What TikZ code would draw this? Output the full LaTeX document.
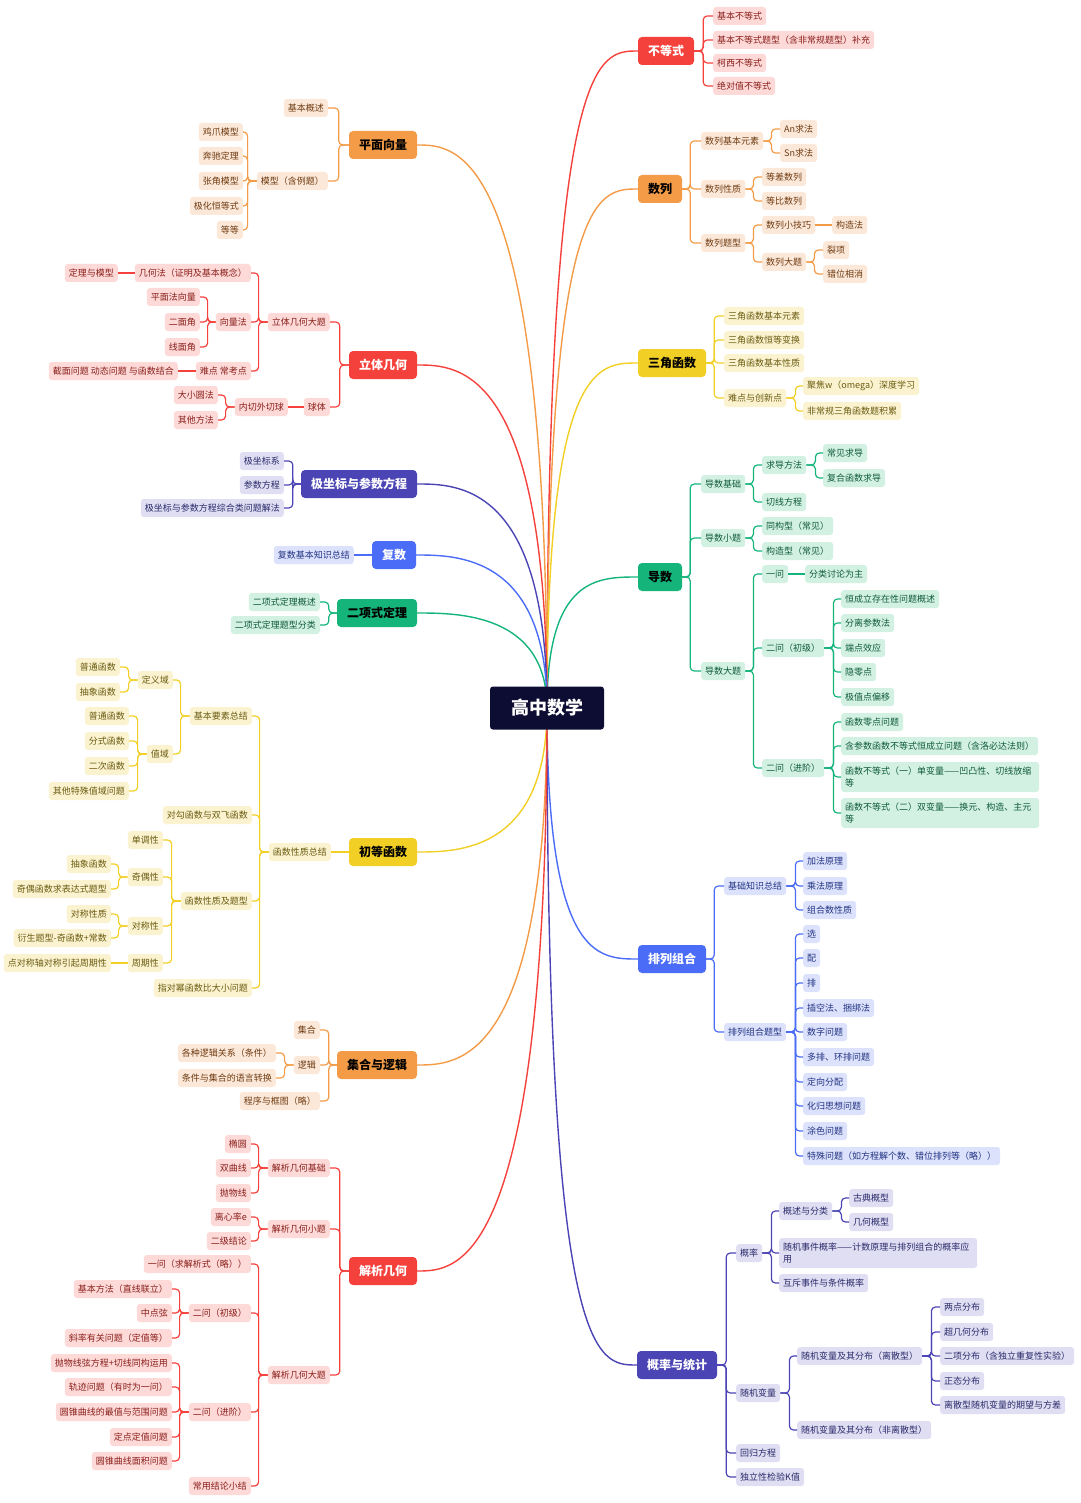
\documentclass[tikz,border=0pt]{standalone}
\usepackage{fontspec}
\setmainfont{Noto Sans CJK SC}
\usetikzlibrary{positioning}
\definecolor{rootbg}{HTML}{0D0D33}
\definecolor{redT}{HTML}{F5413C}\definecolor{redL}{HTML}{FDDAD8}\definecolor{redX}{HTML}{8A1F1B}
\definecolor{orT}{HTML}{F39B47}\definecolor{orL}{HTML}{FCE8D8}\definecolor{orX}{HTML}{6E3B12}
\definecolor{yeT}{HTML}{F1CF25}\definecolor{yeL}{HTML}{FBF3CF}\definecolor{yeX}{HTML}{6A5B12}
\definecolor{grT}{HTML}{14B47A}\definecolor{grL}{HTML}{D2F1E3}\definecolor{grX}{HTML}{0F5A3A}
\definecolor{inT}{HTML}{4B44B4}\definecolor{inL}{HTML}{DFDEF2}\definecolor{inX}{HTML}{2B2A6B}
\definecolor{blT}{HTML}{4A6CF6}\definecolor{blL}{HTML}{DCE2FC}\definecolor{blX}{HTML}{223382}

\begin{document}
\begin{tikzpicture}[
    x=1pt, y=-1pt,
    % leaves
    leaf/.style = {rounded corners=3pt, inner xsep=4pt, inner ysep=0pt,
        minimum height=18pt, font=\fontsize{9}{12}\selectfont},
    lr/.style = {leaf, fill=redL, text=redX},
    lo/.style = {leaf, fill=orL, text=orX},
    ly/.style = {leaf, fill=yeL, text=yeX},
    lg/.style = {leaf, fill=grL, text=grX},
    li/.style = {leaf, fill=inL, text=inX},
    lb/.style = {leaf, fill=blL, text=blX},
    % main topics
    topic/.style = {rounded corners=4pt, inner xsep=10pt, minimum height=28pt,
        font=\fontsize{12}{14}\selectfont\bfseries},
    tr/.style = {topic, fill=redT, text=white},
    to/.style = {topic, fill=orT, text=black},
    ty/.style = {topic, fill=yeT, text=black},
    tg/.style = {topic, fill=grT, text=black},
    ti/.style = {topic, fill=inT, text=white},
    tb/.style = {topic, fill=blT, text=white},
    % connectors
    cr/.style = {draw=redT, line width=1.2pt, rounded corners=4pt},
    co/.style = {draw=orT, line width=1.2pt, rounded corners=4pt},
    cy/.style = {draw=yeT, line width=1.2pt, rounded corners=4pt},
    cg/.style = {draw=grT, line width=1.2pt, rounded corners=4pt},
    ci/.style = {draw=inT, line width=1.2pt, rounded corners=4pt},
    cb/.style = {draw=blT, line width=1.2pt, rounded corners=4pt},
    two/.style = {text width=#1, align=left, minimum height=30pt}
]
\useasboundingbox (0,0) rectangle (1080,1503);
\coordinate (rc) at (547,708);

% ---------- right side ----------
% 不等式
\node[tr] (bdz) at (666,51) {不等式};
\node[lr, anchor=west] (bdz1) at (713,16) {基本不等式};
\node[lr, anchor=west] (bdz2) at (713,40) {基本不等式题型（含非常规题型）补充};
\node[lr, anchor=west] (bdz3) at (713,63) {柯西不等式};
\node[lr, anchor=west] (bdz4) at (713,86) {绝对值不等式};
\foreach \c in {bdz1,bdz2,bdz3,bdz4} \draw[cr] (bdz.east) -- ++(9,0) |- (\c.west);

% 数列
\node[to] (sl) at (660,189) {数列};
\node[lo, anchor=west] (sl1) at (701,141) {数列基本元素};
\node[lo, anchor=west] (sl2) at (701,189) {数列性质};
\node[lo, anchor=west] (sl3) at (701,243) {数列题型};
\node[lo, anchor=west] (sl11) at (780,129) {An求法};
\node[lo, anchor=west] (sl12) at (780,153) {Sn求法};
\node[lo, anchor=west] (sl21) at (762,177) {等差数列};
\node[lo, anchor=west] (sl22) at (762,201) {等比数列};
\node[lo, anchor=west] (sl31) at (762,225) {数列小技巧};
\node[lo, anchor=west] (sl32) at (762,262) {数列大题};
\node[lo, anchor=west] (sl311) at (832,225) {构造法};
\node[lo, anchor=west] (sl321) at (823,250) {裂项};
\node[lo, anchor=west] (sl322) at (823,274) {错位相消};
\foreach \c in {sl1,sl2,sl3} \draw[co] (sl.east) -- ++(8,0) |- (\c.west);
\foreach \c in {sl11,sl12} \draw[co] (sl1.east) -- ++(8,0) |- (\c.west);
\foreach \c in {sl21,sl22} \draw[co] (sl2.east) -- ++(8,0) |- (\c.west);
\foreach \c in {sl31,sl32} \draw[co] (sl3.east) -- ++(8,0) |- (\c.west);
\draw[co] (sl31) -- (sl311);
\foreach \c in {sl321,sl322} \draw[co] (sl32.east) -- ++(8,0) |- (\c.west);

% 三角函数
\node[ty] (sj) at (672,363) {三角函数};
\node[ly, anchor=west] (sj1) at (724,316) {三角函数基本元素};
\node[ly, anchor=west] (sj2) at (724,340) {三角函数恒等变换};
\node[ly, anchor=west] (sj3) at (724,363) {三角函数基本性质};
\node[ly, anchor=west] (sj4) at (724,398) {难点与创新点};
\node[ly, anchor=west] (sj41) at (803,386) {聚焦w（omega）深度学习};
\node[ly, anchor=west] (sj42) at (803,411) {非常规三角函数题积累};
\foreach \c in {sj1,sj2,sj3,sj4} \draw[cy] (sj.east) -- ++(8,0) |- (\c.west);
\foreach \c in {sj41,sj42} \draw[cy] (sj4.east) -- ++(9,0) |- (\c.west);

% 导数
\node[tg] (ds) at (660,577) {导数};
\node[lg, anchor=west] (ds1) at (701,484) {导数基础};
\node[lg, anchor=west] (ds2) at (701,538) {导数小题};
\node[lg, anchor=west] (ds3) at (701,671) {导数大题};
\node[lg, anchor=west] (ds11) at (762,465) {求导方法};
\node[lg, anchor=west] (ds12) at (762,502) {切线方程};
\node[lg, anchor=west] (ds111) at (823,453) {常见求导};
\node[lg, anchor=west] (ds112) at (823,478) {复合函数求导};
\node[lg, anchor=west] (ds21) at (762,526) {同构型（常见）};
\node[lg, anchor=west] (ds22) at (762,551) {构造型（常见）};
\node[lg, anchor=west] (ds31) at (762,574) {一问};
\node[lg, anchor=west] (ds32) at (762,648) {二问（初级）};
\node[lg, anchor=west] (ds33) at (762,768) {二问（进阶）};
\node[lg, anchor=west] (ds311) at (805,574) {分类讨论为主};
\node[lg, anchor=west] (ds321) at (841,599) {恒成立存在性问题概述};
\node[lg, anchor=west] (ds322) at (841,623) {分离参数法};
\node[lg, anchor=west] (ds323) at (841,648) {端点效应};
\node[lg, anchor=west] (ds324) at (841,672) {隐零点};
\node[lg, anchor=west] (ds325) at (841,697) {极值点偏移};
\node[lg, anchor=west] (ds331) at (841,722) {函数零点问题};
\node[lg, anchor=west] (ds332) at (841,746) {含参数函数不等式恒成立问题（含洛必达法则）};
\node[lg, anchor=west, two=190pt] (ds333) at (841,777) {函数不等式（一）单变量——凹凸性、切线放缩\\等};
\node[lg, anchor=west, two=190pt] (ds334) at (841,813) {函数不等式（二）双变量——换元、构造、主元\\等};
\foreach \c in {ds1,ds2,ds3} \draw[cg] (ds.east) -- ++(8,0) |- (\c.west);
\foreach \c in {ds11,ds12} \draw[cg] (ds1.east) -- ++(8,0) |- (\c.west);
\foreach \c in {ds111,ds112} \draw[cg] (ds11.east) -- ++(9,0) |- (\c.west);
\foreach \c in {ds21,ds22} \draw[cg] (ds2.east) -- ++(8,0) |- (\c.west);
\foreach \c in {ds31,ds32,ds33} \draw[cg] (ds3.east) -- ++(8,0) |- (\c.west);
\draw[cg] (ds31) -- (ds311);
\foreach \c in {ds321,ds322,ds323,ds324,ds325} \draw[cg] (ds32.east) -- ++(9,0) |- (\c.west);
\foreach \c in {ds331,ds332,ds333,ds334} \draw[cg] (ds33.east) -- ++(9,0) |- (\c.west);

% 排列组合
\node[tb] (pl) at (672,959) {排列组合};
\node[lb, anchor=west] (pl1) at (724,886) {基础知识总结};
\node[lb, anchor=west] (pl2) at (724,1032) {排列组合题型};
\node[lb, anchor=west] (pl11) at (803,861) {加法原理};
\node[lb, anchor=west] (pl12) at (803,886) {乘法原理};
\node[lb, anchor=west] (pl13) at (803,910) {组合数性质};
\node[lb, anchor=west] (pl21) at (803,934) {选};
\node[lb, anchor=west] (pl22) at (803,958) {配};
\node[lb, anchor=west] (pl23) at (803,983) {排};
\node[lb, anchor=west] (pl24) at (803,1008) {插空法、捆绑法};
\node[lb, anchor=west] (pl25) at (803,1032) {数字问题};
\node[lb, anchor=west] (pl26) at (803,1057) {多排、环排问题};
\node[lb, anchor=west] (pl27) at (803,1082) {定向分配};
\node[lb, anchor=west] (pl28) at (803,1106) {化归思想问题};
\node[lb, anchor=west] (pl29) at (803,1131) {涂色问题};
\node[lb, anchor=west] (pl2a) at (803,1156) {特殊问题（如方程解个数、错位排列等（略））};
\foreach \c in {pl1,pl2} \draw[cb] (pl.east) -- ++(8,0) |- (\c.west);
\foreach \c in {pl11,pl12,pl13} \draw[cb] (pl1.east) -- ++(9,0) |- (\c.west);
\foreach \c in {pl21,pl22,pl23,pl24,pl25,pl26,pl27,pl28,pl29,pl2a} \draw[cb] (pl2.east) -- ++(9,0) |- (\c.west);

% 概率与统计
\node[ti] (gl) at (677,1365) {概率与统计};
\node[li, anchor=west] (gl1) at (736,1253) {概率};
\node[li, anchor=west] (gl2) at (736,1393) {随机变量};
\node[li, anchor=west] (gl3) at (736,1453) {回归方程};
\node[li, anchor=west] (gl4) at (736,1477) {独立性检验K值};
\node[li, anchor=west] (gl11) at (779,1211) {概述与分类};
\node[li, anchor=west, two=190pt] (gl12) at (779,1253) {随机事件概率——计数原理与排列组合的概率应\\用};
\node[li, anchor=west] (gl13) at (779,1283) {互斥事件与条件概率};
\node[li, anchor=west] (gl111) at (849,1198) {古典概型};
\node[li, anchor=west] (gl112) at (849,1222) {几何概型};
\node[li, anchor=west] (gl21) at (797,1356) {随机变量及其分布（离散型）};
\node[li, anchor=west] (gl22) at (797,1430) {随机变量及其分布（非离散型）};
\node[li, anchor=west] (gl211) at (940,1307) {两点分布};
\node[li, anchor=west] (gl212) at (940,1332) {超几何分布};
\node[li, anchor=west] (gl213) at (940,1356) {二项分布（含独立重复性实验）};
\node[li, anchor=west] (gl214) at (940,1381) {正态分布};
\node[li, anchor=west] (gl215) at (940,1405) {离散型随机变量的期望与方差};
\foreach \c in {gl1,gl2,gl3,gl4} \draw[ci] (gl.east) -- ++(9,0) |- (\c.west);
\foreach \c in {gl11,gl12,gl13} \draw[ci] (gl1.east) -- ++(9,0) |- (\c.west);
\foreach \c in {gl111,gl112} \draw[ci] (gl11.east) -- ++(9,0) |- (\c.west);
\foreach \c in {gl21,gl22} \draw[ci] (gl2.east) -- ++(9,0) |- (\c.west);
\foreach \c in {gl211,gl212,gl213,gl214,gl215} \draw[ci] (gl21.east) -- ++(9,0) |- (\c.west);

% ---------- left side ----------
% 平面向量
\node[to] (pm) at (383,145) {平面向量};
\node[lo, anchor=east] (pm1) at (328,108) {基本概述};
\node[lo, anchor=east] (pm2) at (328,181) {模型（含例题）};
\node[lo, anchor=east] (pm21) at (243,132) {鸡爪模型};
\node[lo, anchor=east] (pm22) at (243,156) {奔驰定理};
\node[lo, anchor=east] (pm23) at (243,181) {张角模型};
\node[lo, anchor=east] (pm24) at (243,206) {极化恒等式};
\node[lo, anchor=east] (pm25) at (243,230) {等等};
\foreach \c in {pm1,pm2} \draw[co] (pm.west) -- ++(-10,0) |- (\c.east);
\foreach \c in {pm21,pm22,pm23,pm24,pm25} \draw[co] (pm2.west) -- ++(-9,0) |- (\c.east);

% 立体几何
\node[tr] (lt) at (383,365) {立体几何};
\node[lr, anchor=east] (lt1) at (330,322) {立体几何大题};
\node[lr, anchor=east] (lt2) at (330,407) {球体};
\node[lr, anchor=east] (lt11) at (251,273) {几何法（证明及基本概念）};
\node[lr, anchor=east] (lt12) at (251,322) {向量法};
\node[lr, anchor=east] (lt13) at (251,371) {难点 常考点};
\node[lr, anchor=east] (lt111) at (118,273) {定理与模型};
\node[lr, anchor=east] (lt121) at (200,297) {平面法向量};
\node[lr, anchor=east] (lt122) at (200,322) {二面角};
\node[lr, anchor=east] (lt123) at (200,347) {线面角};
\node[lr, anchor=east] (lt131) at (178,371) {截面问题 动态问题 与函数结合};
\node[lr, anchor=east] (lt21) at (288,407) {内切外切球};
\node[lr, anchor=east] (lt211) at (218,395) {大小圆法};
\node[lr, anchor=east] (lt212) at (218,420) {其他方法};
\foreach \c in {lt1,lt2} \draw[cr] (lt.west) -- ++(-9,0) |- (\c.east);
\foreach \c in {lt11,lt12,lt13} \draw[cr] (lt1.west) -- ++(-9,0) |- (\c.east);
\draw[cr] (lt11) -- (lt111);
\foreach \c in {lt121,lt122,lt123} \draw[cr] (lt12.west) -- ++(-8,0) |- (\c.east);
\draw[cr] (lt13) -- (lt131);
\draw[cr] (lt2) -- (lt21);
\foreach \c in {lt211,lt212} \draw[cr] (lt21.west) -- ++(-9,0) |- (\c.east);

% 极坐标与参数方程
\node[ti] (jz) at (359,484) {极坐标与参数方程};
\node[li, anchor=east] (jz1) at (284,461) {极坐标系};
\node[li, anchor=east] (jz2) at (284,485) {参数方程};
\node[li, anchor=east] (jz3) at (284,508) {极坐标与参数方程综合类问题解法};
\foreach \c in {jz1,jz2,jz3} \draw[ci] (jz.west) -- ++(-8,0) |- (\c.east);

% 复数
\node[tb] (fs) at (394,555) {复数};
\node[lb, anchor=east] (fs1) at (354,555) {复数基本知识总结};
\draw[cb] (fs) -- (fs1);

% 二项式定理
\node[tg] (ex) at (377,613) {二项式定理};
\node[lg, anchor=east] (ex1) at (320,602) {二项式定理概述};
\node[lg, anchor=east] (ex2) at (320,625) {二项式定理题型分类};
\foreach \c in {ex1,ex2} \draw[cg] (ex.west) -- ++(-8,0) |- (\c.east);

% 初等函数
\node[ty] (cd) at (383,852) {初等函数};
\node[ly, anchor=east] (cd1) at (331,852) {函数性质总结};
\node[ly, anchor=east] (cd11) at (252,716) {基本要素总结};
\node[ly, anchor=east] (cd12) at (252,815) {对勾函数与双飞函数};
\node[ly, anchor=east] (cd13) at (252,901) {函数性质及题型};
\node[ly, anchor=east] (cd14) at (252,988) {指对幂函数比大小问题};
\node[ly, anchor=east] (cd111) at (173,680) {定义域};
\node[ly, anchor=east] (cd112) at (173,754) {值域};
\node[ly, anchor=east] (cd1111) at (120,667) {普通函数};
\node[ly, anchor=east] (cd1112) at (120,692) {抽象函数};
\node[ly, anchor=east] (cd1121) at (129,716) {普通函数};
\node[ly, anchor=east] (cd1122) at (129,741) {分式函数};
\node[ly, anchor=east] (cd1123) at (129,766) {二次函数};
\node[ly, anchor=east] (cd1124) at (129,791) {其他特殊值域问题};
\node[ly, anchor=east] (cd131) at (163,840) {单调性};
\node[ly, anchor=east] (cd132) at (163,877) {奇偶性};
\node[ly, anchor=east] (cd133) at (163,926) {对称性};
\node[ly, anchor=east] (cd134) at (163,963) {周期性};
\node[ly, anchor=east] (cd1321) at (111,864) {抽象函数};
\node[ly, anchor=east] (cd1322) at (111,889) {奇偶函数求表达式题型};
\node[ly, anchor=east] (cd1331) at (111,914) {对称性质};
\node[ly, anchor=east] (cd1332) at (111,938) {衍生题型-奇函数+常数};
\node[ly, anchor=east] (cd1341) at (111,963) {点对称轴对称引起周期性};
\draw[cy] (cd) -- (cd1);
\foreach \c in {cd11,cd12,cd13,cd14} \draw[cy] (cd1.west) -- ++(-9,0) |- (\c.east);
\foreach \c in {cd111,cd112} \draw[cy] (cd11.west) -- ++(-9,0) |- (\c.east);
\foreach \c in {cd1111,cd1112} \draw[cy] (cd111.west) -- ++(-9,0) |- (\c.east);
\foreach \c in {cd1121,cd1122,cd1123,cd1124} \draw[cy] (cd112.west) -- ++(-9,0) |- (\c.east);
\foreach \c in {cd131,cd132,cd133,cd134} \draw[cy] (cd13.west) -- ++(-9,0) |- (\c.east);
\foreach \c in {cd1321,cd1322} \draw[cy] (cd132.west) -- ++(-9,0) |- (\c.east);
\foreach \c in {cd1331,cd1332} \draw[cy] (cd133.west) -- ++(-9,0) |- (\c.east);
\draw[cy] (cd134) -- (cd1341);

% 集合与逻辑
\node[to] (jh) at (377,1065) {集合与逻辑};
\node[lo, anchor=east] (jh1) at (320,1030) {集合};
\node[lo, anchor=east] (jh2) at (320,1065) {逻辑};
\node[lo, anchor=east] (jh3) at (320,1101) {程序与框图（略）};
\node[lo, anchor=east] (jh21) at (276,1053) {各种逻辑关系（条件）};
\node[lo, anchor=east] (jh22) at (276,1078) {条件与集合的语言转换};
\foreach \c in {jh1,jh2,jh3} \draw[co] (jh.west) -- ++(-8,0) |- (\c.east);
\foreach \c in {jh21,jh22} \draw[co] (jh2.west) -- ++(-9,0) |- (\c.east);

% 解析几何
\node[tr] (jx) at (383,1271) {解析几何};
\node[lr, anchor=east] (jx1) at (330,1168) {解析几何基础};
\node[lr, anchor=east] (jx2) at (330,1229) {解析几何小题};
\node[lr, anchor=east] (jx3) at (330,1375) {解析几何大题};
\node[lr, anchor=east] (jx11) at (251,1144) {椭圆};
\node[lr, anchor=east] (jx12) at (251,1168) {双曲线};
\node[lr, anchor=east] (jx13) at (251,1193) {抛物线};
\node[lr, anchor=east] (jx21) at (251,1217) {离心率e};
\node[lr, anchor=east] (jx22) at (251,1241) {二级结论};
\node[lr, anchor=east] (jx31) at (251,1264) {一问（求解析式（略））};
\node[lr, anchor=east] (jx32) at (251,1313) {二问（初级）};
\node[lr, anchor=east] (jx33) at (251,1412) {二问（进阶）};
\node[lr, anchor=east] (jx34) at (251,1486) {常用结论小结};
\node[lr, anchor=east] (jx321) at (172,1289) {基本方法（直线联立）};
\node[lr, anchor=east] (jx322) at (172,1313) {中点弦};
\node[lr, anchor=east] (jx323) at (172,1338) {斜率有关问题（定值等）};
\node[lr, anchor=east] (jx331) at (172,1363) {抛物线弦方程+切线同构运用};
\node[lr, anchor=east] (jx332) at (172,1387) {轨迹问题（有时为一问）};
\node[lr, anchor=east] (jx333) at (172,1412) {圆锥曲线的最值与范围问题};
\node[lr, anchor=east] (jx334) at (172,1437) {定点定值问题};
\node[lr, anchor=east] (jx335) at (172,1461) {圆锥曲线面积问题};
\foreach \c in {jx1,jx2,jx3} \draw[cr] (jx.west) -- ++(-9,0) |- (\c.east);
\foreach \c in {jx11,jx12,jx13} \draw[cr] (jx1.west) -- ++(-9,0) |- (\c.east);
\foreach \c in {jx21,jx22} \draw[cr] (jx2.west) -- ++(-9,0) |- (\c.east);
\foreach \c in {jx31,jx32,jx33,jx34} \draw[cr] (jx3.west) -- ++(-9,0) |- (\c.east);
\foreach \c in {jx321,jx322,jx323} \draw[cr] (jx32.west) -- ++(-9,0) |- (\c.east);
\foreach \c in {jx331,jx332,jx333,jx334,jx335} \draw[cr] (jx33.west) -- ++(-9,0) |- (\c.east);

% ---------- main branches ----------
\foreach \t/\c in {bdz/redT, sl/orT, sj/yeT, ds/grT, pl/blT, gl/inT}
  \draw[draw=\c, line width=1.4pt] (rc) .. controls (rc |- \t.west) and ([xshift=-40pt]\t.west) .. (\t.west);
\foreach \t/\c in {pm/orT, lt/redT, jz/inT, fs/blT, ex/grT, cd/yeT, jh/orT, jx/redT}
  \draw[draw=\c, line width=1.4pt] (rc) .. controls (rc |- \t.east) and ([xshift=40pt]\t.east) .. (\t.east);

\node[fill=rootbg, text=white, rounded corners=3pt, minimum width=114pt, minimum height=43pt,
      font=\fontsize{18}{20}\selectfont\bfseries] (root) at (rc) {高中数学};
\end{tikzpicture}
\end{document}
